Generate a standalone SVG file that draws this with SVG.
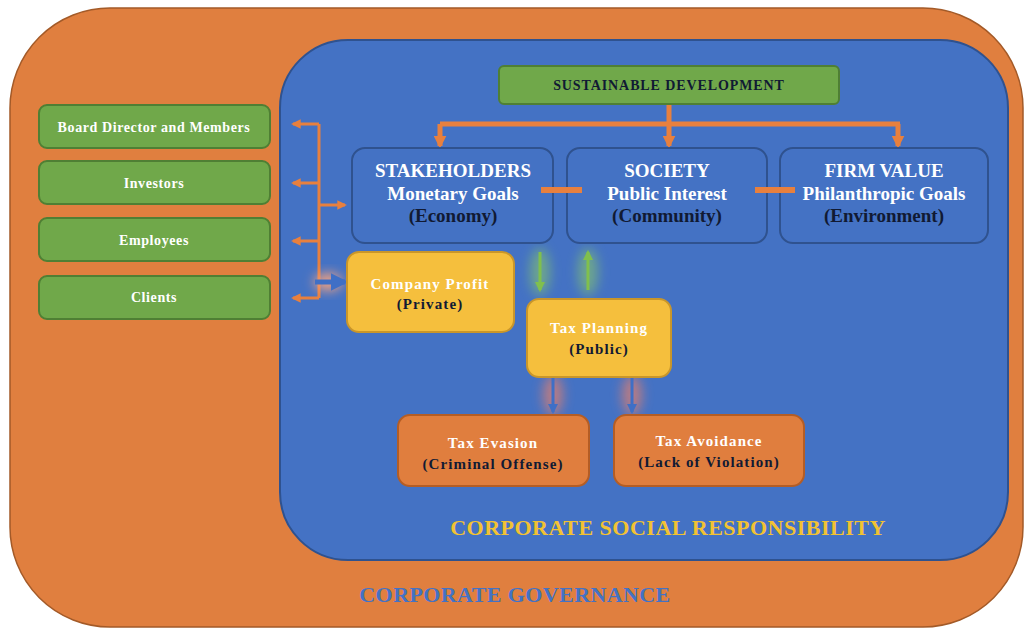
<svg xmlns="http://www.w3.org/2000/svg" width="1026" height="629" viewBox="0 0 1026 629">
<style>
text{font-family:"Liberation Serif","Times New Roman",serif;font-weight:bold;text-anchor:middle}
.green{fill:#70a84a;stroke:#4f7f34;stroke-width:2}
.blue{fill:#4472c4;stroke:#2f528f;stroke-width:2}
.yellow{fill:#f5bf3d;stroke:#c9962a;stroke-width:2}
.orange{fill:#e07e3e;stroke:#b45d25;stroke-width:2}
.w{fill:#ffffff}
.k{fill:#111a33}
.g{font-size:14px;letter-spacing:0.6px}
.t{font-size:19px}
.s{font-size:15px;letter-spacing:1.1px}
.conn{stroke:#e8803e;stroke-width:5;fill:none}
.thin{stroke:#e8803e;stroke-width:3;fill:none}
</style>
<defs>
<marker id="ah" viewBox="0 0 10 10" refX="8" refY="5" markerWidth="3.2" markerHeight="3.2" orient="auto"><path d="M0,0L10,5L0,10z" fill="#e8803e"/></marker>
<marker id="ah2" viewBox="0 0 10 10" refX="8" refY="5" markerWidth="2.6" markerHeight="2.6" orient="auto"><path d="M0,0L10,5L0,10z" fill="#e8803e"/></marker>
<marker id="ag" viewBox="0 0 10 10" refX="8" refY="5" markerWidth="3.5" markerHeight="3.5" orient="auto"><path d="M0,0L10,5L0,10z" fill="#80c04c"/></marker>
<marker id="ab" viewBox="0 0 10 10" refX="8" refY="5" markerWidth="3.5" markerHeight="3.5" orient="auto"><path d="M0,0L10,5L0,10z" fill="#3f6fc6"/></marker>
<filter id="glow" x="-100%" y="-50%" width="300%" height="200%"><feGaussianBlur stdDeviation="6"/></filter>
</defs>
<rect x="10" y="8" width="1013" height="619" rx="100" fill="#e07f3f" stroke="#a35a28" stroke-width="1.5"/>
<rect x="280" y="40" width="728" height="520" rx="68" fill="#4472c4" stroke="#2f528f" stroke-width="2"/>
<text x="668" y="535" style="font-size:22px;letter-spacing:0.5px;fill:#f2c232">CORPORATE SOCIAL RESPONSIBILITY</text>
<text x="515" y="602" style="font-size:22px;letter-spacing:0.4px;fill:#4472c4">CORPORATE GOVERNANCE</text>
<g id="connectors">
<path class="conn" d="M669,104V124M440,124H900" />
<path class="conn" d="M440,124V146" marker-end="url(#ah2)"/>
<path class="conn" d="M669,124V146" marker-end="url(#ah2)"/>
<path class="conn" d="M898,124V146" marker-end="url(#ah2)"/>
<path class="thin" d="M319,124V298"/>
<path class="thin" d="M319,124H293" marker-end="url(#ah)"/>
<path class="thin" d="M319,183H293" marker-end="url(#ah)"/>
<path class="thin" d="M319,241H293" marker-end="url(#ah)"/>
<path class="thin" d="M319,298H293" marker-end="url(#ah)"/>
<path class="thin" d="M319,205H345" marker-end="url(#ah)"/>
<ellipse cx="328" cy="282" rx="14" ry="9" fill="#f0a080" filter="url(#glow)"/>
<path d="M315,282H345" stroke="#3f6fc6" stroke-width="5" fill="none" marker-end="url(#ab)"/>
<ellipse cx="540" cy="272" rx="10" ry="24" fill="#8fd060" opacity="0.55" filter="url(#glow)"/>
<ellipse cx="588" cy="272" rx="10" ry="24" fill="#8fd060" opacity="0.55" filter="url(#glow)"/>
<path d="M540,252V290" stroke="#80c04c" stroke-width="3" fill="none" marker-end="url(#ag)"/>
<path d="M588,290V252" stroke="#80c04c" stroke-width="3" fill="none" marker-end="url(#ag)"/>
<ellipse cx="553" cy="395" rx="10" ry="20" fill="#e8806a" opacity="0.7" filter="url(#glow)"/>
<ellipse cx="632" cy="395" rx="10" ry="20" fill="#e8806a" opacity="0.7" filter="url(#glow)"/>
<path d="M553,378V412" stroke="#3f6fc6" stroke-width="3" fill="none" marker-end="url(#ab)"/>
<path d="M632,378V412" stroke="#3f6fc6" stroke-width="3" fill="none" marker-end="url(#ab)"/>
</g>
<g id="board"><rect class="green" x="39" y="105" width="231" height="43" rx="8"/><text class="w g" x="154" y="132">Board Director and Members</text></g>
<g id="investors"><rect class="green" x="39" y="161" width="231" height="43" rx="8"/><text class="w g" x="154" y="188">Investors</text></g>
<g id="employees"><rect class="green" x="39" y="218" width="231" height="43" rx="8"/><text class="w g" x="154" y="245">Employees</text></g>
<g id="clients"><rect class="green" x="39" y="276" width="231" height="43" rx="8"/><text class="w g" x="154" y="302">Clients</text></g>
<g id="sustainable"><rect class="green" x="499" y="66" width="340" height="38" rx="5"/><text class="k" x="669" y="90" style="font-size:14px;letter-spacing:0.9px">SUSTAINABLE DEVELOPMENT</text></g>
<g id="stakeholders"><rect class="blue" x="352" y="148" width="201" height="95" rx="13"/>
<text class="w t" x="453" y="177">STAKEHOLDERS</text>
<text class="w t" x="453" y="200">Monetary Goals</text>
<text class="k t" x="453" y="222">(Economy)</text></g>
<g id="society"><rect class="blue" x="567" y="148" width="200" height="95" rx="13"/>
<text class="w t" x="667" y="177">SOCIETY</text>
<text class="w t" x="667" y="200">Public Interest</text>
<text class="k t" x="667" y="222">(Community)</text></g>
<g id="firmvalue"><rect class="blue" x="780" y="148" width="208" height="95" rx="13"/>
<text class="w t" x="884" y="177">FIRM VALUE</text>
<text class="w t" x="884" y="200">Philanthropic Goals</text>
<text class="k t" x="884" y="222">(Environment)</text></g>
<g id="profit"><rect class="yellow" x="347" y="252" width="167" height="80" rx="12"/>
<text class="w s" x="430" y="289">Company Profit</text>
<text class="k s" x="430" y="309">(Private)</text></g>
<g id="planning"><rect class="yellow" x="527" y="299" width="144" height="78" rx="12"/>
<text class="w s" x="599" y="333">Tax Planning</text>
<text class="k s" x="599" y="354">(Public)</text></g>
<g id="evasion"><rect class="orange" x="398" y="415" width="191" height="71" rx="12"/>
<text class="w s" x="493" y="448">Tax Evasion</text>
<text class="k s" x="493" y="469">(Criminal Offense)</text></g>
<g id="avoidance"><rect class="orange" x="614" y="415" width="190" height="71" rx="12"/>
<text class="w s" x="709" y="446">Tax Avoidance</text>
<text class="k s" x="709" y="467">(Lack of Violation)</text></g>
<g id="links">
<path class="conn" d="M541,190H582M755,190H795" style="stroke-width:6"/>
</g>
</svg>
